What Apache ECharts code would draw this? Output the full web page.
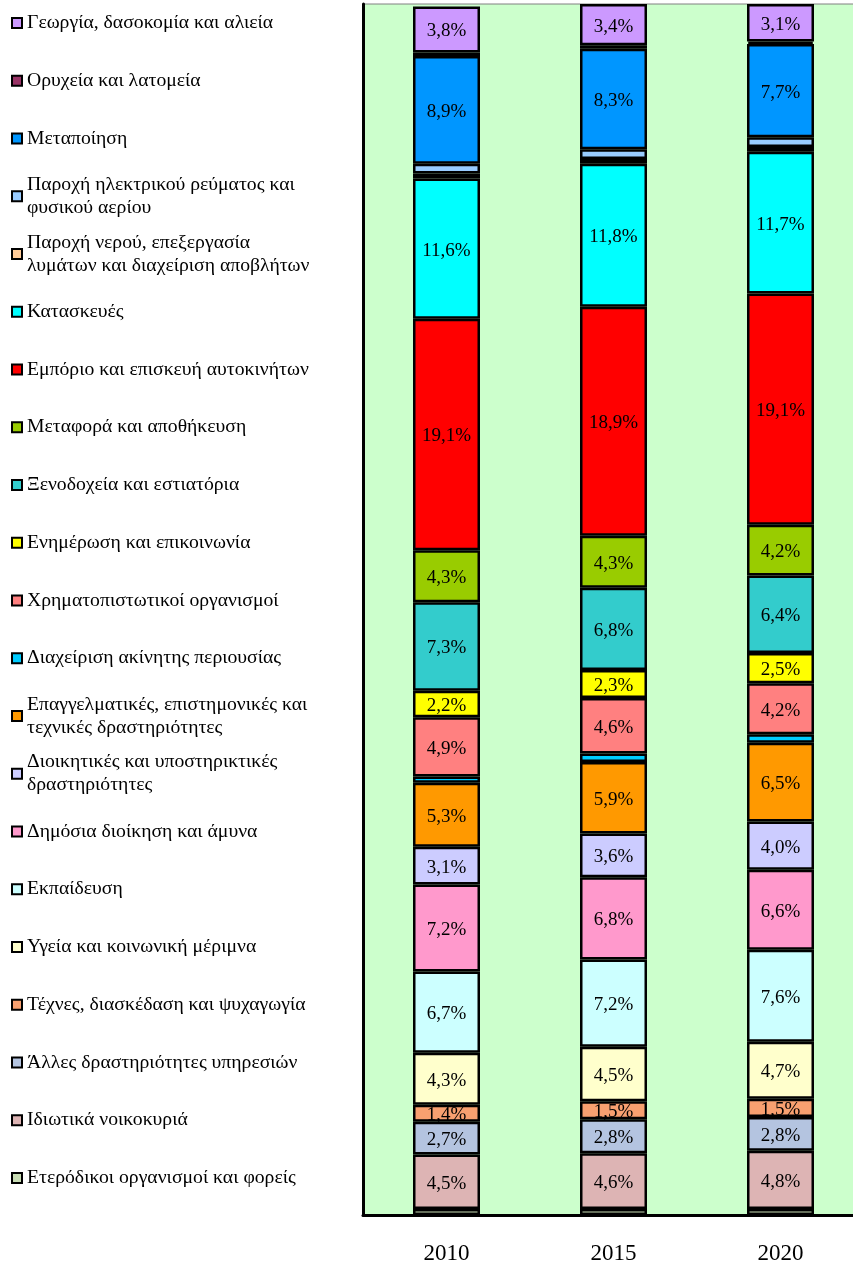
<!DOCTYPE html>
<html><head><meta charset="utf-8">
<script src="https://cdn.jsdelivr.net/npm/echarts@6/dist/echarts.min.js"></script>
<style>html,body{margin:0;padding:0;background:#fff}#c{width:853px;height:1265px}</style>
</head><body><div id="c"></div>
<script>
// Categories (years)
const years = ['2010', '2015', '2020'];

// Sectors, listed top-of-stack first (same order as the legend)
const sectors = [
  'Γεωργία, δασοκομία και αλιεία',
  'Ορυχεία και λατομεία',
  'Μεταποίηση',
  'Παροχή ηλεκτρικού ρεύματος και φυσικού αερίου',
  'Παροχή νερού, επεξεργασία λυμάτων και διαχείριση αποβλήτων',
  'Κατασκευές',
  'Εμπόριο και επισκευή αυτοκινήτων',
  'Μεταφορά και αποθήκευση',
  'Ξενοδοχεία και εστιατόρια',
  'Ενημέρωση και επικοινωνία',
  'Χρηματοπιστωτικοί οργανισμοί',
  'Διαχείριση ακίνητης περιουσίας',
  'Επαγγελματικές, επιστημονικές και τεχνικές δραστηριότητες',
  'Διοικητικές και υποστηρικτικές δραστηριότητες',
  'Δημόσια διοίκηση και άμυνα',
  'Εκπαίδευση',
  'Υγεία και κοινωνική μέριμνα',
  'Τέχνες, διασκέδαση και ψυχαγωγία',
  'Άλλες δραστηριότητες υπηρεσιών',
  'Ιδιωτικά νοικοκυριά',
  'Ετερόδικοι οργανισμοί και φορείς'
];

// Shares (%) per year, same order as sectors
const values2010 = [3.8, 0.3, 8.9, 0.8, 0.4, 11.6, 19.1, 4.3, 7.3, 2.2, 4.9, 0.5, 5.3, 3.1, 7.2, 6.7, 4.3, 1.4, 2.7, 4.5, 0.5];
const values2015 = [3.4, 0.3, 8.3, 0.8, 0.4, 11.8, 18.9, 4.3, 6.8, 2.3, 4.6, 0.7, 5.9, 3.6, 6.8, 7.2, 4.5, 1.5, 2.8, 4.6, 0.5];
const values2020 = [3.1, 0.2, 7.7, 0.8, 0.4, 11.7, 19.1, 4.2, 6.4, 2.5, 4.2, 0.7, 6.5, 4.0, 6.6, 7.6, 4.7, 1.5, 2.8, 4.8, 0.5];

// Colours per sector
const colors = ['#CC99FF', '#993366', '#0096FF', '#99CCFF', '#FFCC99', '#00FFFF', '#FF0000', '#99CC00', '#33CCCC', '#FFFF00',
  '#FF8080', '#00CCFF', '#FF9900', '#CCCCFF', '#FF99CC', '#CCFFFF', '#FFFFCC', '#F8A070', '#B4C4E0', '#DDB4B4', '#C8DCB4'];

// Legend line breaks (display only)
const legendWrap = {
  'Παροχή ηλεκτρικού ρεύματος και φυσικού αερίου': 'Παροχή ηλεκτρικού ρεύματος και\nφυσικού αερίου',
  'Παροχή νερού, επεξεργασία λυμάτων και διαχείριση αποβλήτων': 'Παροχή νερού, επεξεργασία\nλυμάτων και διαχείριση αποβλήτων',
  'Επαγγελματικές, επιστημονικές και τεχνικές δραστηριότητες': 'Επαγγελματικές, επιστημονικές και\nτεχνικές δραστηριότητες',
  'Διοικητικές και υποστηρικτικές δραστηριότητες': 'Διοικητικές και υποστηρικτικές\nδραστηριότητες'
};

const FONT = '"Liberation Serif", "Times New Roman", serif';
const LH = 23;

const series = [];
for (let i = sectors.length - 1; i >= 0; i--) {
  series.push({
    name: sectors[i],
    type: 'bar',
    stack: 'total',
    barWidth: 67,
    data: [values2010[i], values2015[i], values2020[i]],
    itemStyle: { color: colors[i], borderColor: '#000', borderWidth: 2.5 },
    label: {
      show: true,
      position: 'inside',
      offset: [0, 2],
      color: '#000',
      fontFamily: FONT,
      fontSize: 19,
      textBorderWidth: 0,
      formatter: p => p.value >= 1 ? p.value.toFixed(1).replace('.', ',') + '%' : ''
    },
    emphasis: { disabled: true }
  });
}

const legends = sectors.map((name, i) => {
  const c = 23 + 57.75 * i;
  const twoLine = !!legendWrap[name];
  return {
    left: 11,
    top: twoLine ? c - 34.5 : c - 11.5,
    orient: 'vertical',
    padding: 0,
    itemWidth: 10,
    itemHeight: 10,
    selectedMode: false,
    itemStyle: { borderColor: '#000', borderWidth: 2 },
    formatter: n => legendWrap[n] || n,
    textStyle: { fontFamily: FONT, fontSize: 19.7, color: '#000', lineHeight: LH },
    data: [{ name: name, icon: 'rect', textStyle: twoLine ? { padding: [LH, 0, 0, 0] } : {} }]
  };
});

const chart = echarts.init(document.getElementById('c'));
chart.setOption({
  animation: false,
  backgroundColor: '#fff',
  grid: {
    left: 363, top: 4, right: -11, bottom: 50,
    outerBoundsMode: 'none',
    containLabel: false,
    show: true, backgroundColor: '#CCFFCC', borderColor: '#808080', borderWidth: 1
  },
  legend: legends,
  xAxis: {
    type: 'category',
    data: years,
    axisLine: { lineStyle: { color: '#000', width: 3 } },
    axisTick: { length: 6, lineStyle: { color: '#000', width: 2 } },
    axisLabel: { fontFamily: FONT, fontSize: 23, color: '#000', margin: 27 }
  },
  yAxis: {
    type: 'value', min: 0, max: 100,
    axisLine: { show: true, lineStyle: { color: '#000', width: 3 } },
    axisTick: { show: false }, axisLabel: { show: false }, splitLine: { show: false }
  },
  series: series
});
</script></body></html>
